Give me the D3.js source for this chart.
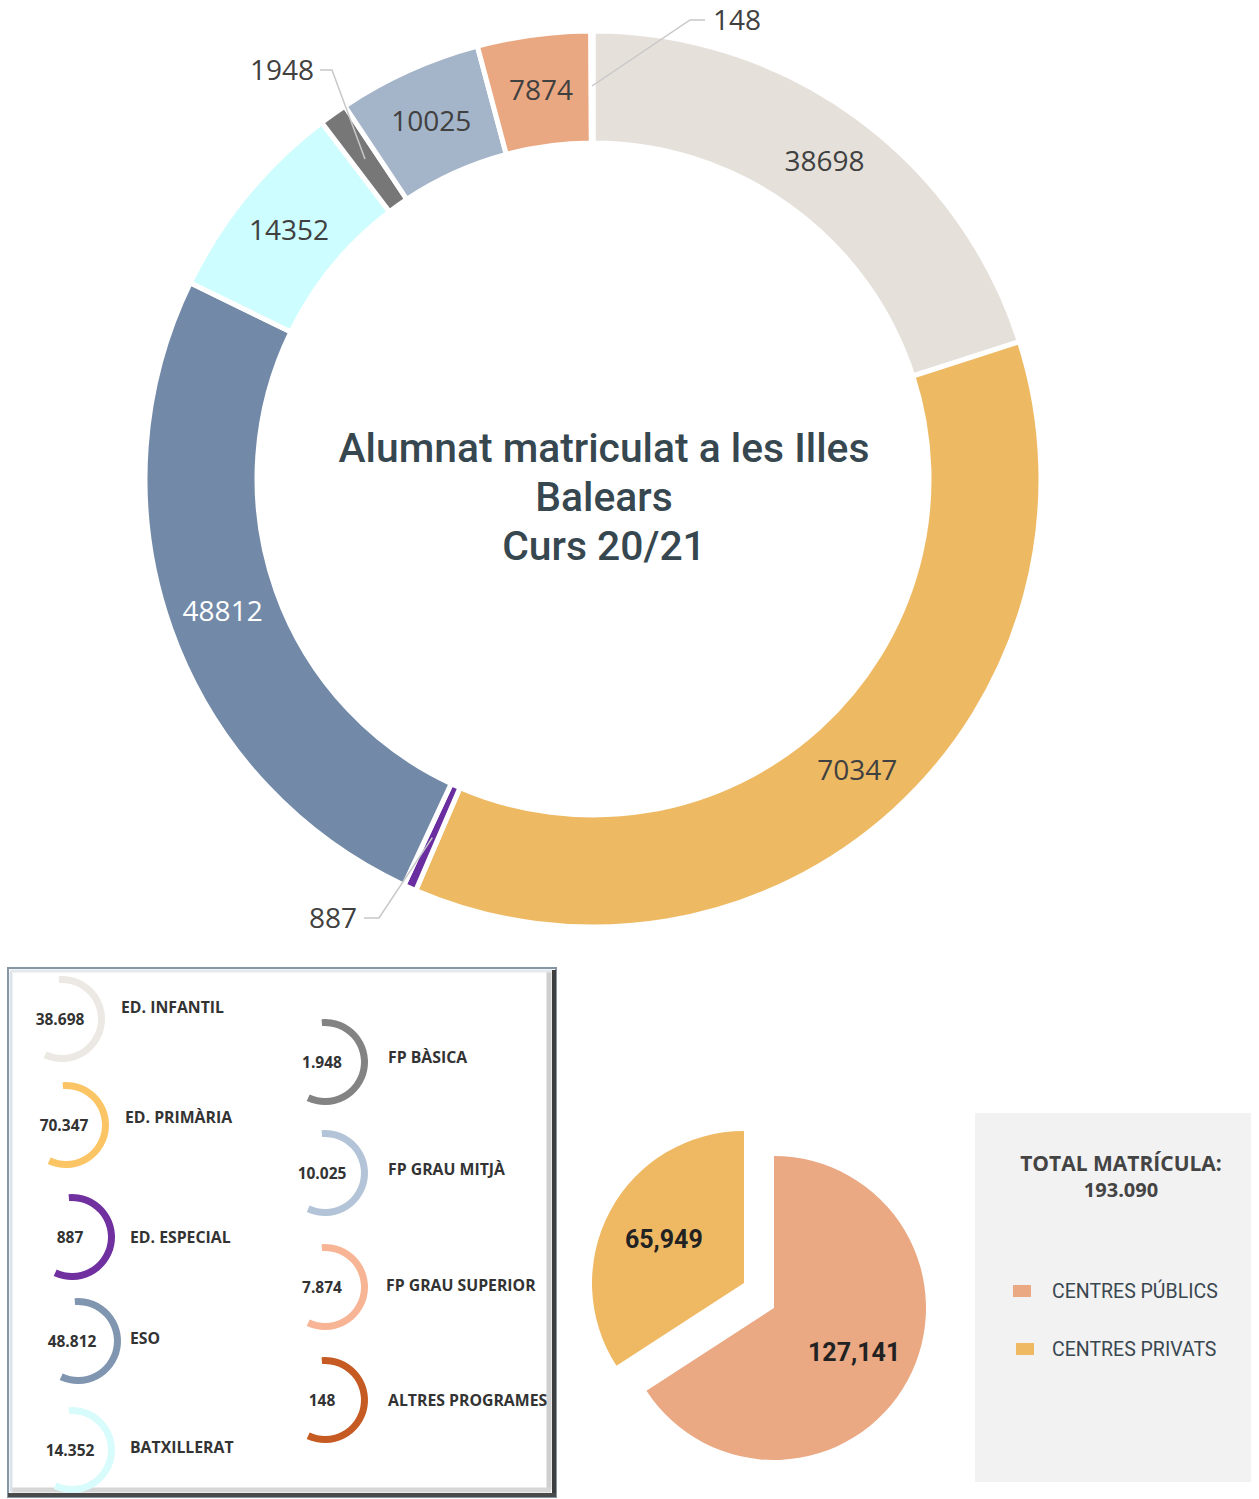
<!DOCTYPE html>
<html>
<head>
<meta charset="utf-8">
<script src="https://cdn.jsdelivr.net/npm/d3@7"></script>
<style>
  body { margin: 0; background: #fff; }
  svg { display: block; }
</style>
</head>
<body>
<svg id="canvas" width="1259" height="1499"></svg>
<script>
"use strict";

// Data
var categories = ["ED. INFANTIL", "ED. PRIMÀRIA", "ED. ESPECIAL", "ESO", "BATXILLERAT",
    "FP BÀSICA", "FP GRAU MITJÀ", "FP GRAU SUPERIOR", "ALTRES PROGRAMES"];
var students = [38698, 70347, 887, 48812, 14352, 1948, 10025, 7874, 148];
var ringColors = ["#e5e0da", "#eeb963", "#6a2ea0", "#728aa8", "#cdfdfe", "#777777", "#a4b4c9", "#eaa882", "#c65a1e"];
var legendColors = ["#ece8e3", "#fbc566", "#7030a0", "#7f95b0", "#d8fbfc", "#838383", "#b3c3d8", "#f7b595", "#c55a22"];

var sectors = ["CENTRES PÚBLICS", "CENTRES PRIVATS"];
var sectorStudents = [127141, 65949];
var sectorColors = ["#eaa883", "#efb964"];

var titleLines = ["Alumnat matriculat a les Illes", "Balears", "Curs 20/21"];

var svg = d3.select("#canvas");
var caFormat = d3.formatLocale({ decimal: ",", thousands: ".", grouping: [3], currency: ["", ""] }).format(",");

// ---- Big donut
var CX = 593, CY = 479;
var OUTER = 448, INNER = 336, LABEL_R = 393;

var pie = d3.pie().sort(null).value(function(d) { return d; });
var arcs = pie(students);
var arc = d3.arc().innerRadius(INNER).outerRadius(OUTER);
var labelArc = d3.arc().innerRadius(LABEL_R).outerRadius(LABEL_R);

var donut = svg.append("g").attr("transform", "translate(" + CX + "," + CY + ")");
donut.selectAll("path.slice")
    .data(arcs)
    .enter().append("path")
    .attr("class", "slice")
    .attr("d", arc)
    .attr("fill", function(d, i) { return ringColors[i]; })
    .attr("stroke", "#fff")
    .attr("stroke-width", 5)
    .attr("stroke-linejoin", "miter");

// small slices get their label outside, with a leader line
// x, y: label centre (relative to donut centre); half: half label width + gap; ex: elbow length
var outside = {
    2: { x: -260, y: 439, half: 31, ex: 15 },
    5: { x: -311, y: -409, half: 38, ex: 12 },
    8: { x: 144, y: -459, half: 32, ex: -15 }
};

donut.selectAll("text.val")
    .data(arcs.filter(function(d) { return !outside[d.index]; }))
    .enter().append("text")
    .attr("class", "val")
    .attr("transform", function(d) { return "translate(" + labelArc.centroid(d) + ")"; })
    .attr("text-anchor", "middle")
    .attr("dy", "0.36em")
    .attr("font-family", "Open Sans, sans-serif")
    .attr("font-size", "28px")
    .attr("fill", function(d) { return d.index === 3 ? "#ffffff" : "#404040"; })
    .text(function(d) { return d.data; });

arcs.filter(function(d) { return outside[d.index]; }).forEach(function(d) {
    var o = outside[d.index];
    var c = labelArc.centroid(d);
    var sx = o.x + (o.ex > 0 ? o.half : -o.half);
    donut.append("polyline")
        .attr("points", [[sx, o.y], [sx + o.ex, o.y], c].map(function(p) { return p.join(","); }).join(" "))
        .attr("fill", "none")
        .attr("stroke", "#c8c8c8")
        .attr("stroke-width", 1.5);
    donut.append("text")
        .attr("x", o.x)
        .attr("y", o.y)
        .attr("dy", "0.36em")
        .attr("text-anchor", "middle")
        .attr("font-family", "Open Sans, sans-serif")
        .attr("font-size", "28px")
        .attr("fill", "#404040")
        .text(d.data);
});

// centre title
svg.append("text")
    .attr("x", 604)
    .attr("y", 462)
    .attr("text-anchor", "middle")
    .attr("font-family", "Roboto, sans-serif")
    .attr("font-weight", 500)
    .attr("font-size", "40.8px")
    .attr("fill", "#37474f")
    .selectAll("tspan")
    .data(titleLines)
    .enter().append("tspan")
    .attr("x", 604)
    .attr("dy", function(d, i) { return i === 0 ? 0 : 49; })
    .text(function(d) { return d; });

// ---- Legend box with small arcs
var box = svg.append("g");
box.append("rect")
    .attr("x", 8).attr("y", 968).attr("width", 548).attr("height", 529)
    .attr("fill", "#fff").attr("stroke", "#8796a5").attr("stroke-width", 2);
// bevel: dark right / bottom edges, soft inner shading
box.append("line").attr("x1", 554).attr("y1", 970).attr("x2", 554).attr("y2", 1497)
    .attr("stroke", "#3e3e3e").attr("stroke-width", 4);
box.append("line").attr("x1", 8).attr("y1", 1495).attr("x2", 556).attr("y2", 1495)
    .attr("stroke", "#4a4a4a").attr("stroke-width", 4);
box.append("line").attr("x1", 549).attr("y1", 972).attr("x2", 549).attr("y2", 1490)
    .attr("stroke", "#cfcfcf").attr("stroke-width", 5);
box.append("line").attr("x1", 12).attr("y1", 1490).attr("x2", 551).attr("y2", 1490)
    .attr("stroke", "#d6d6d6").attr("stroke-width", 5);
box.append("line").attr("x1", 11).attr("y1", 972).attr("x2", 11).attr("y2", 1492)
    .attr("stroke", "#dde3ea").attr("stroke-width", 3);
box.append("line").attr("x1", 10).attr("y1", 971).attr("x2", 552).attr("y2", 971)
    .attr("stroke", "#e4e9ee").attr("stroke-width", 3);

// positions for each legend item: arc centre, value centre, label start
var legendArcX = [62, 66, 72, 78, 72, 325, 325, 325, 325];
var legendArcY = [1019, 1125, 1237, 1341, 1450, 1062, 1173, 1287, 1400];
var legendValX = [60, 64, 70, 72, 70, 322, 322, 322, 322];
var legendLabelX = [121, 125, 130, 130, 130, 388, 388, 386, 388];
var legendLabelY = [1007, 1117, 1237, 1338, 1447, 1057, 1169, 1285, 1400];

var miniArc = d3.arc().innerRadius(36).outerRadius(43)
    .startAngle(-0.08).endAngle(Math.PI * 1.14);

var items = box.selectAll("g.item")
    .data(categories)
    .enter().append("g")
    .attr("class", "item");

items.append("path")
    .attr("transform", function(d, i) { return "translate(" + legendArcX[i] + "," + legendArcY[i] + ")"; })
    .attr("d", miniArc)
    .attr("fill", function(d, i) { return legendColors[i]; });

items.append("text")
    .attr("x", function(d, i) { return legendValX[i]; })
    .attr("y", function(d, i) { return legendArcY[i]; })
    .attr("dy", "0.36em")
    .attr("text-anchor", "middle")
    .attr("font-family", "Open Sans, sans-serif")
    .attr("font-weight", 700)
    .attr("font-size", "15.5px")
    .attr("fill", "#333")
    .text(function(d, i) { return caFormat(students[i]); });

items.append("text")
    .attr("x", function(d, i) { return legendLabelX[i]; })
    .attr("y", function(d, i) { return legendLabelY[i]; })
    .attr("dy", "0.36em")
    .attr("font-family", "Open Sans, sans-serif")
    .attr("font-weight", 700)
    .attr("font-size", "15.8px")
    .attr("fill", "#333")
    .text(function(d) { return d; });

// ---- Public / private pie
var PX = 774, PY = 1308, PR = 152;
var sectorPie = d3.pie().sort(null).value(function(d) { return d; });
var sectorArcs = sectorPie(sectorStudents);
var sectorArc = d3.arc().innerRadius(0).outerRadius(PR);
var sectorLabelArc = d3.arc().innerRadius(PR * 0.6).outerRadius(PR * 0.6);
var explode = [[0, 0], [-30, -25]];

var pieG = svg.append("g").attr("transform", "translate(" + PX + "," + PY + ")");
var sl = pieG.selectAll("g.sector")
    .data(sectorArcs)
    .enter().append("g")
    .attr("class", "sector")
    .attr("transform", function(d, i) { return "translate(" + explode[i] + ")"; });
sl.append("path")
    .attr("d", sectorArc)
    .attr("fill", function(d, i) { return sectorColors[i]; });
sl.append("text")
    .attr("transform", function(d) { return "translate(" + sectorLabelArc.centroid(d) + ")"; })
    .attr("text-anchor", "middle")
    .attr("dy", "0.36em")
    .attr("font-family", "Roboto, sans-serif")
    .attr("font-weight", 700)
    .attr("font-size", "25px")
    .attr("fill", "#222")
    .text(function(d) { return d3.format(",")(d.data); });

// ---- Total box
var tb = svg.append("g");
tb.append("rect").attr("x", 975).attr("y", 1113).attr("width", 276).attr("height", 369).attr("fill", "#f2f2f2");
tb.append("text")
    .attr("x", 1121).attr("y", 1171)
    .attr("text-anchor", "middle")
    .attr("font-family", "Open Sans, sans-serif")
    .attr("font-weight", 700)
    .attr("font-size", "21px")
    .attr("fill", "#444")
    .text("TOTAL MATRÍCULA:");
tb.append("text")
    .attr("x", 1121).attr("y", 1197)
    .attr("text-anchor", "middle")
    .attr("font-family", "Open Sans, sans-serif")
    .attr("font-weight", 700)
    .attr("font-size", "20px")
    .attr("fill", "#444")
    .text(caFormat(d3.sum(sectorStudents)));

var legY = [1291, 1349];
var legSqX = [1013, 1016];
tb.selectAll("rect.sw")
    .data(sectors)
    .enter().append("rect")
    .attr("class", "sw")
    .attr("x", function(d, i) { return legSqX[i]; })
    .attr("y", function(d, i) { return legY[i] - 6; })
    .attr("width", 18).attr("height", 12)
    .attr("fill", function(d, i) { return sectorColors[i]; });
tb.selectAll("text.lg")
    .data(sectors)
    .enter().append("text")
    .attr("class", "lg")
    .attr("x", 1052)
    .attr("y", function(d, i) { return legY[i]; })
    .attr("dy", "0.36em")
    .attr("font-family", "Roboto, sans-serif")
    .attr("font-size", "19.5px")
    .attr("fill", "#3a4750")
    .text(function(d) { return d; });
</script>
</body>
</html>
